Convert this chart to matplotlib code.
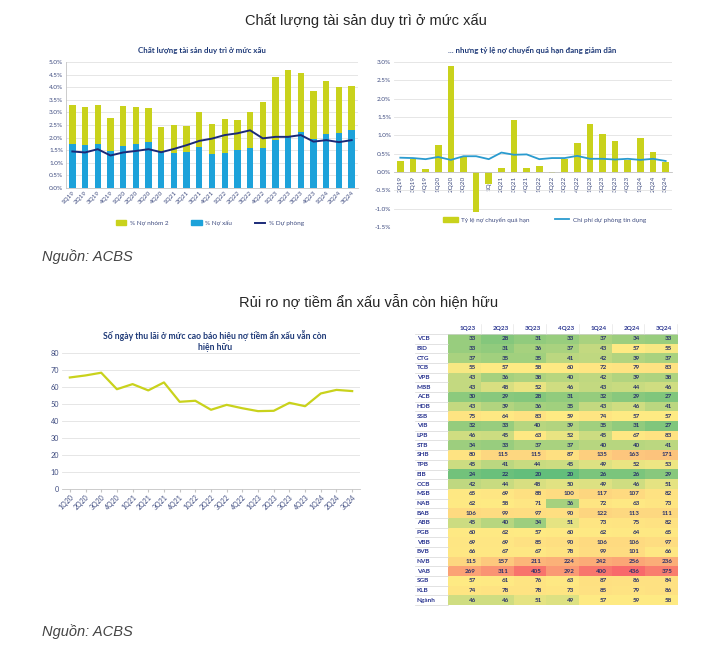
import numpy as np
import matplotlib
matplotlib.use("Agg")
import matplotlib.pyplot as plt
from matplotlib import font_manager
from matplotlib.colors import LinearSegmentedColormap, TwoSlopeNorm
from matplotlib.lines import Line2D
from matplotlib.patches import Patch
from matplotlib.ticker import FuncFormatter

W, H = 722, 648

# ---- chart 1: asset quality, 1Q19..3Q24 (% of loans) ----
Q_1 = ["1Q19", "2Q19", "3Q19", "4Q19", "1Q20", "2Q20", "3Q20", "4Q20",
       "1Q21", "2Q21", "3Q21", "4Q21", "1Q22", "2Q22", "3Q22", "4Q22",
       "1Q23", "2Q23", "3Q23", "4Q23", "1Q24", "2Q24", "3Q24"]
NO_XAU = [1.74, 1.71, 1.76, 1.47, 1.67, 1.74, 1.83, 1.41, 1.39, 1.41, 1.62,
          1.36, 1.39, 1.51, 1.59, 1.59, 1.91, 2.04, 2.22, 1.96, 2.14, 2.20, 2.30]
NO_NHOM2 = [1.55, 1.49, 1.53, 1.29, 1.58, 1.46, 1.33, 1.00, 1.11, 1.05, 1.39,
            1.17, 1.35, 1.19, 1.42, 1.82, 2.50, 2.63, 2.33, 1.87, 2.11, 1.80, 1.75]
DU_PHONG = [1.45, 1.41, 1.54, 1.29, 1.41, 1.47, 1.54, 1.42, 1.55, 1.70, 1.87,
            1.96, 2.10, 2.17, 2.29, 1.97, 2.03, 2.03, 2.10, 1.84, 1.90, 1.82, 1.90]

# ---- chart 2: overdue migration vs credit cost, 2Q19..3Q24 (%) ----
Q_2 = Q_1[1:]
QUA_HAN = [0.30, 0.35, 0.07, 0.74, 2.89, 0.41, -1.08, -0.32, 0.10, 1.43, 0.12,
           0.16, -0.04, 0.36, 0.78, 1.32, 1.03, 0.84, 0.34, 0.92, 0.54, 0.28]
CHI_PHI_DP = [0.39, 0.38, 0.35, 0.41, 0.33, 0.43, 0.43, 0.35, 0.53, 0.47, 0.48,
              0.35, 0.38, 0.38, 0.44, 0.36, 0.36, 0.34, 0.36, 0.33, 0.36, 0.30]

# ---- chart 3: days of interest receivable, 1Q20..3Q24 ----
Q_3 = Q_1[4:]
SO_NGAY = [65.6, 66.8, 68.4, 58.7, 61.7, 58.0, 62.7, 51.3, 51.9, 46.6, 49.5,
           47.5, 45.8, 46.0, 50.7, 48.7, 56.2, 58.3, 57.6]

# ---- table: days of interest receivable per bank ----
TBL_COLS = ["1Q23", "2Q23", "3Q23", "4Q23", "1Q24", "2Q24", "3Q24"]
TBL_ROWS = ["VCB", "BID", "CTG", "TCB", "VPB", "MBB", "ACB", "HDB", "SSB",
            "VIB", "LPB", "STB", "SHB", "TPB", "EIB", "OCB", "MSB", "NAB",
            "BAB", "ABB", "PGB", "VBB", "BVB", "NVB", "VAB", "SGB", "KLB",
            "Ngành"]
TBL_VALS = [
    [33, 28, 31, 33, 37, 34, 33],
    [33, 31, 36, 37, 43, 57, 55],
    [37, 35, 35, 41, 42, 39, 37],
    [55, 57, 58, 60, 72, 79, 83],
    [43, 36, 38, 40, 42, 39, 38],
    [43, 48, 52, 46, 43, 44, 46],
    [30, 29, 28, 31, 32, 29, 27],
    [43, 39, 36, 35, 43, 46, 41],
    [75, 64, 83, 59, 74, 57, 57],
    [32, 33, 40, 39, 35, 31, 27],
    [46, 45, 63, 52, 45, 67, 83],
    [34, 33, 37, 37, 40, 40, 41],
    [80, 115, 115, 87, 135, 163, 171],
    [45, 41, 44, 45, 49, 52, 53],
    [24, 22, 20, 20, 26, 26, 29],
    [42, 44, 48, 50, 49, 46, 51],
    [65, 69, 88, 100, 117, 107, 82],
    [62, 58, 71, 36, 72, 63, 73],
    [106, 99, 97, 90, 122, 113, 111],
    [45, 40, 34, 51, 73, 75, 82],
    [60, 62, 57, 60, 62, 64, 65],
    [69, 69, 85, 90, 106, 106, 97],
    [66, 67, 67, 78, 99, 101, 66],
    [115, 157, 211, 224, 242, 256, 236],
    [269, 311, 405, 292, 400, 436, 375],
    [57, 61, 76, 63, 87, 86, 84],
    [74, 78, 78, 73, 85, 79, 86],
    [46, 46, 51, 49, 57, 59, 58],
]

LIME = "#C9D21C"
BLUE = "#1DA2DA"
NAVY = "#1B2A78"
TEAL = "#2A9BCF"
TITLE_C = "#1F3A78"
TICK_C = "#3F4C80"
GRID_C = "#E2E2E2"
SPINE_C = "#C4C4C4"

names = {f.name for f in font_manager.fontManager.ttflist}
NARROW = "Liberation Sans Narrow" if "Liberation Sans Narrow" in names else "Liberation Sans"
BODY = "Lato" if "Lato" in names else "DejaVu Sans"
plt.rcParams["font.family"] = [BODY, "DejaVu Sans"]


def px_axes(fig, x0, y0, x1, y1):
    """Axes from pixel box (top-left origin)."""
    return fig.add_axes([x0 / W, 1 - y1 / H, (x1 - x0) / W, (y1 - y0) / H])


def px_text(fig, x, y, s, **kw):
    fig.text(x / W, 1 - y / H, s, **kw)


def style_axes(ax):
    for s in ("top", "right"):
        ax.spines[s].set_visible(False)
    for s in ("left", "bottom"):
        ax.spines[s].set_color(SPINE_C)
        ax.spines[s].set_linewidth(0.6)
    ax.grid(axis="y", color=GRID_C, lw=0.6)
    ax.set_axisbelow(True)
    ax.tick_params(axis="y", length=0, labelsize=4.6, colors=TICK_C, pad=2)
    ax.tick_params(axis="x", length=0, labelsize=4.6, colors=TICK_C, pad=1.5)


pct = FuncFormatter(lambda v, _: f"{v:.1f}%")

fig = plt.figure(figsize=(W / 100, H / 100), dpi=100)
fig.patch.set_facecolor("white")

# ---------- headings ----------
head = dict(ha="center", va="center", fontsize=10.5, color="#262626",
            family=[NARROW, "DejaVu Sans"])
src = dict(ha="left", va="center", fontsize=10.5, style="italic",
           color="#444444", family=[NARROW, "DejaVu Sans"])
px_text(fig, 366, 21, "Chất lượng tài sản duy trì ở mức xấu", **head)
px_text(fig, 42, 257, "Nguồn: ACBS", **src)
px_text(fig, 369, 302, "Rủi ro nợ tiềm ẩn xấu vẫn còn hiện hữu", **head)
px_text(fig, 42, 632, "Nguồn: ACBS", **src)

# ---------- chart 1 ----------
ax1 = px_axes(fig, 66, 62, 358, 188)
x1 = np.arange(len(Q_1))
ax1.bar(x1, NO_XAU, width=0.5, color=BLUE, zorder=2)
ax1.bar(x1, NO_NHOM2, width=0.5, bottom=NO_XAU, color=LIME, zorder=2)
ax1.plot(x1, DU_PHONG, color=NAVY, lw=1.4, zorder=3)
ax1.set_xlim(-0.5, len(Q_1) - 0.5)
ax1.set_ylim(0, 5)
ax1.set_yticks(np.arange(0, 5.01, 0.5))
ax1.yaxis.set_major_formatter(pct)
style_axes(ax1)
ax1.set_xticks(x1)
ax1.set_xticklabels(Q_1, rotation=45, ha="right", rotation_mode="anchor")
px_text(fig, 202, 51, "Chất lượng tài sản duy trì ở mức xấu", ha="center",
        va="center", fontsize=5.7, fontweight="bold", color=TITLE_C)
h1 = [Patch(color=LIME), Patch(color=BLUE), Line2D([], [], color=NAVY, lw=1.4)]
fig.legend(h1, ["% Nợ nhóm 2", "% Nợ xấu", "% Dự phòng"], loc="center",
           bbox_to_anchor=(210 / W, 1 - 223 / H), ncol=3, frameon=False,
           fontsize=4.6, handlelength=1.6, handleheight=0.7, columnspacing=3.5,
           handletextpad=0.6, labelcolor=TICK_C)

# ---------- chart 2 ----------
ax2 = px_axes(fig, 394, 62, 672, 227)
x2 = np.arange(len(Q_2))
ax2.bar(x2, QUA_HAN, width=0.52, color=LIME, zorder=2)
ax2.plot(x2, CHI_PHI_DP, color=TEAL, lw=1.3, zorder=3)
ax2.set_xlim(-0.5, len(Q_2) - 0.5)
ax2.set_ylim(-1.5, 3.0)
ax2.set_yticks(np.arange(-1.5, 3.01, 0.5))
ax2.yaxis.set_major_formatter(pct)
style_axes(ax2)
ax2.spines["left"].set_visible(False)
ax2.spines["bottom"].set_position(("data", 0))
ax2.set_xticks(x2)
ax2.set_xticklabels(Q_2, rotation=90, ha="center", va="top")
ax2.tick_params(axis="x", pad=2.5)
px_text(fig, 532, 50, "... nhưng tỷ lệ nợ chuyển quá hạn đang giảm dần",
        ha="center", va="center", fontsize=5.7, fontweight="bold", color=TITLE_C)
h2 = [Patch(color=LIME), Line2D([], [], color=TEAL, lw=1.3)]
fig.legend(h2, ["Tỷ lệ nợ chuyển quá hạn", "Chi phí dự phòng tín dụng"],
           loc="center", bbox_to_anchor=(545 / W, 1 - 220 / H), ncol=2,
           frameon=False, fontsize=4.6, handlelength=2.2, handleheight=0.9,
           columnspacing=4, handletextpad=0.6, labelcolor=TICK_C)

# ---------- chart 3 ----------
ax3 = px_axes(fig, 62, 353, 360, 489)
x3 = np.arange(len(Q_3))
ax3.plot(x3, SO_NGAY, color=LIME, lw=1.6, zorder=3)
ax3.set_xlim(-0.5, len(Q_3) - 0.5)
ax3.set_ylim(0, 80)
ax3.set_yticks(np.arange(0, 81, 10))
style_axes(ax3)
ax3.spines["left"].set_visible(False)
ax3.tick_params(axis="y", labelsize=5.2)
ax3.tick_params(axis="x", labelsize=5.0)
ax3.set_xticks(x3)
ax3.set_xticklabels(Q_3, rotation=45, ha="right", rotation_mode="anchor")
ax3.tick_params(axis="x", length=2, color=SPINE_C)
px_text(fig, 215, 341, "Số ngày thu lãi ở mức cao báo hiệu nợ tiềm ẩn xấu vẫn còn\nhiện hữu",
        ha="center", va="center", fontsize=6.2, fontweight="bold", color=TITLE_C,
        linespacing=1.25)

# ---------- table ----------
vals = np.array(TBL_VALS, dtype=float)
cmap = LinearSegmentedColormap.from_list("gyr", ["#63BE7B", "#FFEB84", "#F8696B"])
norm = TwoSlopeNorm(vmin=vals.min(), vcenter=np.median(vals), vmax=vals.max())
nr, nc = vals.shape
axt = px_axes(fig, 448, 334, 677, 605)
axt.imshow(vals, cmap=cmap, norm=norm, aspect="auto", interpolation="nearest",
           extent=(-0.5, nc - 0.5, nr - 0.5, -0.5))
axt.set_xlim(-0.5, nc - 0.5)
axt.set_ylim(nr - 0.5, -0.5)
axt.axis("off")
for i in range(nr):
    for j in range(nc):
        axt.text(j + 0.36, i, f"{int(vals[i, j])}", ha="right", va="center",
                 fontsize=4.5, fontweight="bold", color="#28306A")
    axt.text(-1.45, i, TBL_ROWS[i], ha="left", va="center", fontsize=4.6,
             fontweight="bold", color="#2A3590", clip_on=False)
    axt.plot([-1.5, -0.5], [i + 0.5, i + 0.5], color="#D6D6D6", lw=0.5,
             clip_on=False)
for j, c in enumerate(TBL_COLS):
    axt.text(j + 0.36, -1.05, c, ha="right", va="center", fontsize=4.6,
             fontweight="bold", color="#2A3590", clip_on=False)
    axt.plot([j + 0.5, j + 0.5], [-1.55, -0.5], color="#E0E0E0", lw=0.4,
             clip_on=False)
axt.plot([-1.5, nc - 0.5], [-0.5, -0.5], color="#D6D6D6", lw=0.5, clip_on=False)

fig.savefig("out.png", dpi=100, facecolor="white")
